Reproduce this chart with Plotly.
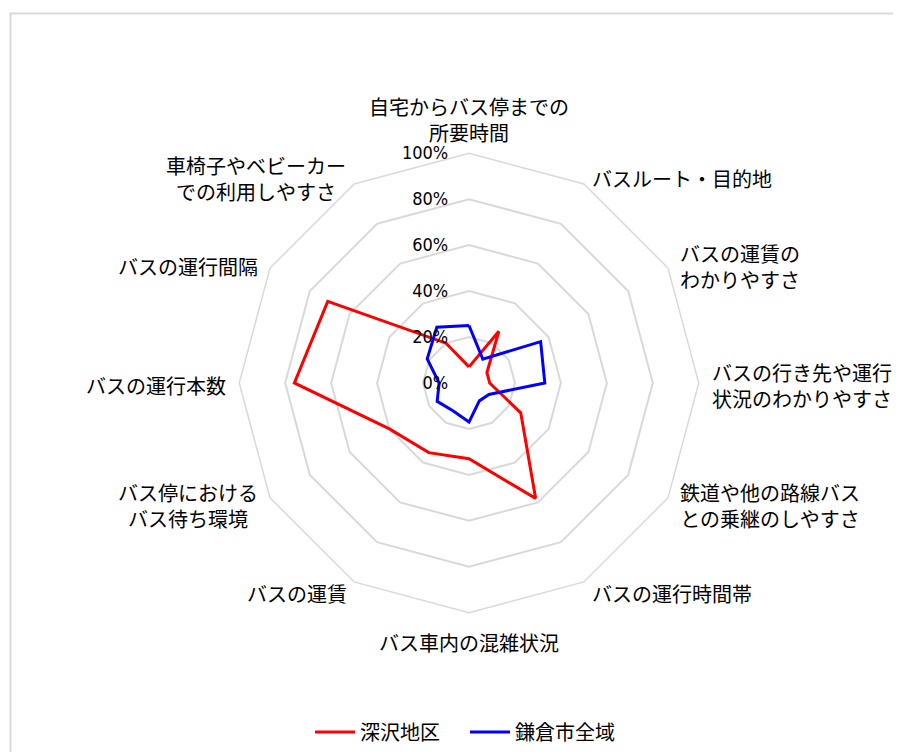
import math
import plotly.graph_objects as go

# 評価項目（時計回り、上から）
categories = [
    "自宅からバス停までの<br>所要時間",
    "バスルート・目的地",
    "バスの運賃の<br>わかりやすさ",
    "バスの行き先や運行<br>状況のわかりやすさ",
    "鉄道や他の路線バス<br>との乗継のしやすさ",
    "バスの運行時間帯",
    "バス車内の混雑状況",
    "バスの運賃",
    "バス停における<br>バス待ち環境",
    "バスの運行本数",
    "バスの運行間隔",
    "車椅子やベビーカー<br>での利用しやすさ",
]

fukasawa = [7, 26, 9, 9, 26, 58, 33, 35, 40, 76, 71, 20]
kamakura = [25, 12, 36, 33, 10, 9, 17, 14, 16, 13, 21, 28]

radial_ticks = [0, 20, 40, 60, 80, 100]

JP_FONT = "Noto Sans CJK JP, sans-serif"
GRID = "#d9d9d9"

# figure geometry (px); page has an 8px body margin
W, H = 893, 744
CX, CY, R = 461, 377, 231
PAD = 10

fig = go.Figure()

for name, vals, color in [("深沢地区", fukasawa, "#ff0000"), ("鎌倉市全域", kamakura, "#0000ff")]:
    fig.add_trace(go.Scatterpolar(
        r=vals + vals[:1],
        theta=categories + categories[:1],
        mode="lines",
        name=name,
        line=dict(color=color, width=3),
    ))

# category labels placed just outside the outer ring
annotations = []
n = len(categories)
for i, label in enumerate(categories):
    a = 2 * math.pi * i / n
    s, c = math.sin(a), math.cos(a)
    px = CX + (R + PAD) * s
    py = CY - (R + PAD) * c
    if s > 0.01:
        xa = "left"
    elif s < -0.01:
        xa = "right"
    else:
        xa = "center"
    yshift = -3
    if abs(s) < 0.01:
        ya = "bottom" if c > 0 else "top"
        if c > 0:
            yshift = -6
    else:
        ya = "middle"
    annotations.append(dict(
        text=label, x=px / W, y=1 - py / H, xref="paper", yref="paper",
        xanchor=xa, yanchor=ya, showarrow=False, align="center", yshift=yshift,
        font=dict(family=JP_FONT, size=20, color="black"),
    ))

fig.update_layout(
    width=W,
    height=H,
    margin=dict(l=0, r=0, t=0, b=0),
    paper_bgcolor="white",
    font=dict(family=JP_FONT, size=20, color="black"),
    polar=dict(
        domain=dict(x=[(CX - R) / W, (CX + R) / W], y=[(H - CY - R) / H, (H - CY + R) / H]),
        bgcolor="white",
        gridshape="linear",
        angularaxis=dict(
            rotation=90,
            direction="clockwise",
            showgrid=False,
            showline=True,
            linecolor=GRID,
            linewidth=1.5,
            ticks="",
            showticklabels=False,
        ),
        radialaxis=dict(
            range=[0, 100],
            tickvals=radial_ticks,
            ticktext=[f"{v}%" for v in radial_ticks],
            angle=90,
            tickangle=90,
            side="counterclockwise",
            showline=False,
            gridcolor=GRID,
            gridwidth=1.5,
            ticks="outside",
            ticklen=14,
            tickcolor="rgba(0,0,0,0)",
            tickfont=dict(family="Liberation Sans Narrow, DejaVu Sans Condensed, sans-serif", size=18, color="black"),
        ),
    ),
    showlegend=True,
    legend=dict(
        orientation="h",
        x=457 / W,
        xanchor="center",
        y=16 / H,
        yanchor="middle",
        font=dict(family=JP_FONT, size=20, color="black"),
        itemwidth=40,
        entrywidth=100,
        entrywidthmode="pixels",
    ),
    annotations=annotations,
    shapes=[dict(
        type="rect",
        xref="paper", yref="paper",
        x0=2.5 / W, x1=1.1,
        y0=-0.1, y1=1 - 5.5 / H,
        line=dict(color=GRID, width=2),
        fillcolor="rgba(0,0,0,0)",
        layer="below",
    )],
)

fig.write_html("out.html")
